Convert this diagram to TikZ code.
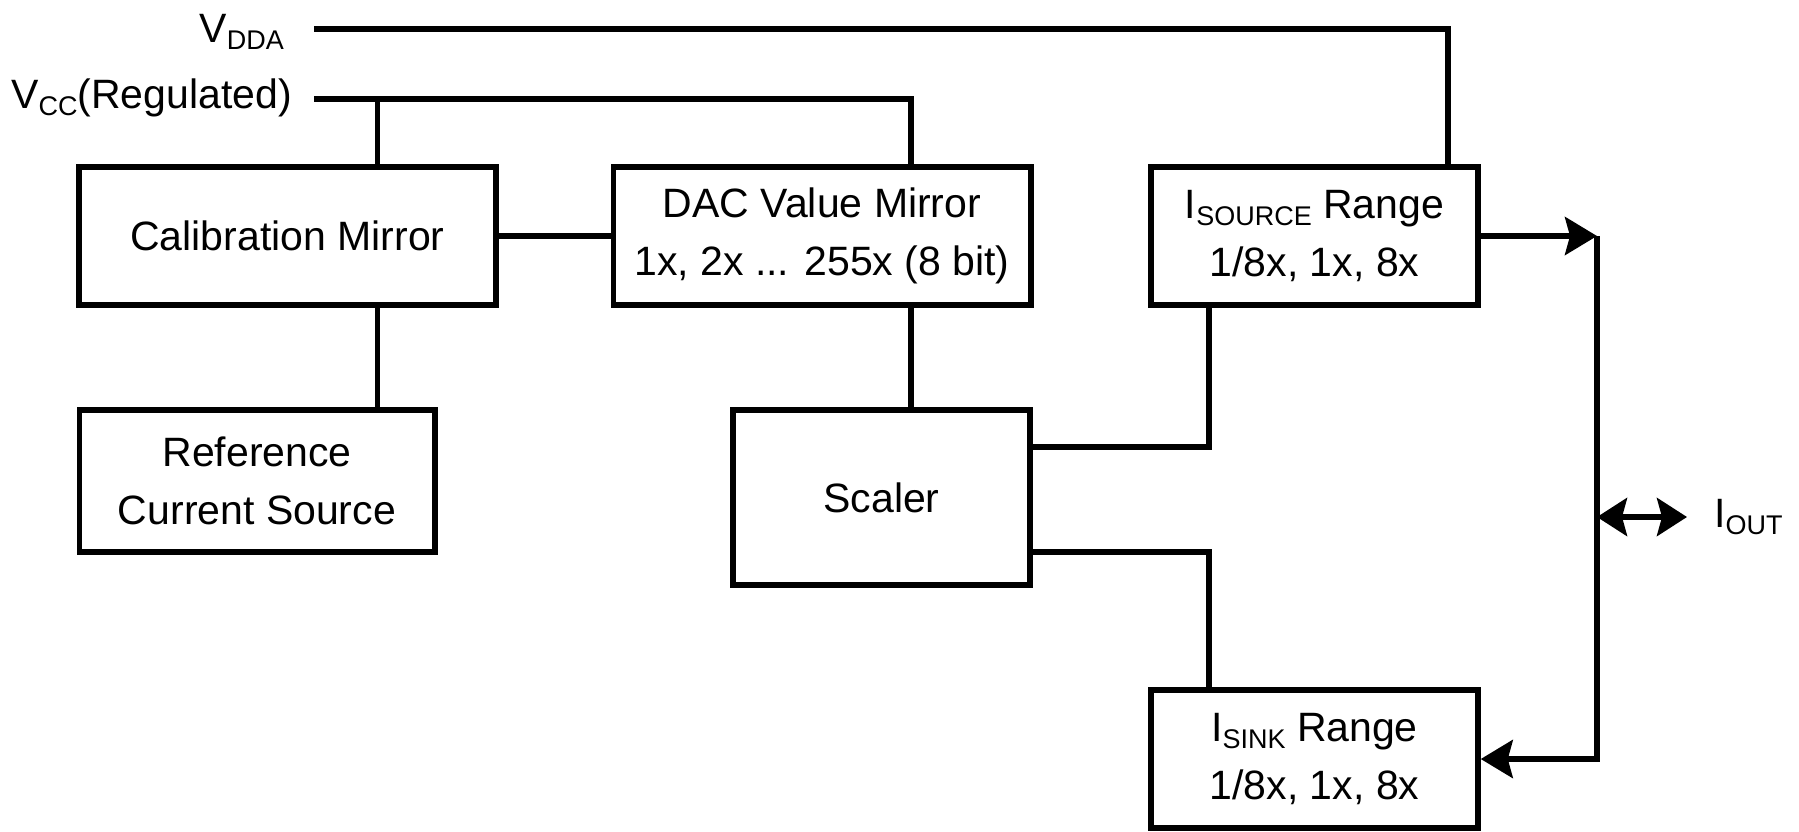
\documentclass[tikz,border=0pt]{standalone}
\usepackage{fontspec}
\setmainfont{Liberation Sans}
\usetikzlibrary{arrows.meta,calc}
\newcommand{\lsub}[1]{\raisebox{-7pt}{\fontsize{27}{27}\selectfont #1}}
\begin{document}
\begin{tikzpicture}[x=1pt,y=-1pt,
  blk/.style={draw, line width=5.5pt, inner sep=0pt, align=center, font=\fontsize{41}{58}\selectfont},
  wire/.style={line width=5.5pt},
  lbl/.style={inner sep=0pt, font=\fontsize{41}{58}\selectfont},
  tip/.style={-{Stealth[length=32pt,width=38pt,inset=5pt]}},
  dtip/.style={{Stealth[length=30pt,width=38pt,inset=5pt]}-{Stealth[length=30pt,width=38pt,inset=5pt]}}
]
\useasboundingbox (0,0) rectangle (1799,831);

% blocks
\node[blk, minimum width=417pt, minimum height=138pt] (cal) at (287.5,236) {Calibration Mirror};
\node[blk, minimum width=417.5pt, minimum height=138pt] (dac) at (822,236) {DAC Value Mirror\\1x, 2x ... 255x (8 bit)};
\node[blk, minimum width=327pt, minimum height=138pt] (isrc) at (1314.5,236) {I\lsub{SOURCE} Range\\1/8x, 1x, 8x};
\node[blk, minimum width=355.5pt, minimum height=142pt] (ref) at (257,481) {Reference\\Current Source};
\node[blk, minimum width=297pt, minimum height=175pt] (scal) at (881.5,497.5) {Scaler};
\node[blk, minimum width=327pt, minimum height=138pt] (isnk) at (1314.5,759) {I\lsub{SINK} Range\\1/8x, 1x, 8x};

% labels
\node[lbl, anchor=base east] (vdda) at (284,42) {V\lsub{DDA}};
\node[lbl, anchor=base east] (vcc) at (292,108) {V\lsub{CC}(Regulated)};
\node[lbl, anchor=base west] (iout) at (1714,527) {I\lsub{OUT}};

% coordinates
\coordinate (vddaS) at (314,29);
\coordinate (vddaC) at (1448,29);
\coordinate (vccS) at (314,99);
\coordinate (vccB) at (377.7,99);
\coordinate (vccC) at (911,99);
\coordinate (su) at (1209,447);
\coordinate (sl) at (1209,552);
\coordinate (j) at (1597,236);
\coordinate (k) at (1597,759);
\coordinate (io) at (1597,517);
\coordinate (ioR) at (1687,517);

% wires
\draw[wire] (vddaS) -- (vddaC) -- (vddaC |- isrc.north);
\draw[wire] (vccS) -- (vccC) -- (vccC |- dac.north);
\draw[wire] (vccB) -- (vccB |- cal.north);
\draw[wire] (cal.east) -- (dac.west);
\draw[wire] (vccB |- cal.south) -- (vccB |- ref.north);
\draw[wire] (vccC |- dac.south) -- (vccC |- scal.north);
\draw[wire] (su -| scal.east) -- (su) -- (su |- isrc.south);
\draw[wire] (sl -| scal.east) -- (sl) -- (sl |- isnk.north);
\draw[wire,tip] (isrc.east) -- (j);
\draw[wire,tip] (j) -- (k) -- (isnk.east);
\draw[wire,dtip] (io) -- (ioR);
\end{tikzpicture}
\end{document}
